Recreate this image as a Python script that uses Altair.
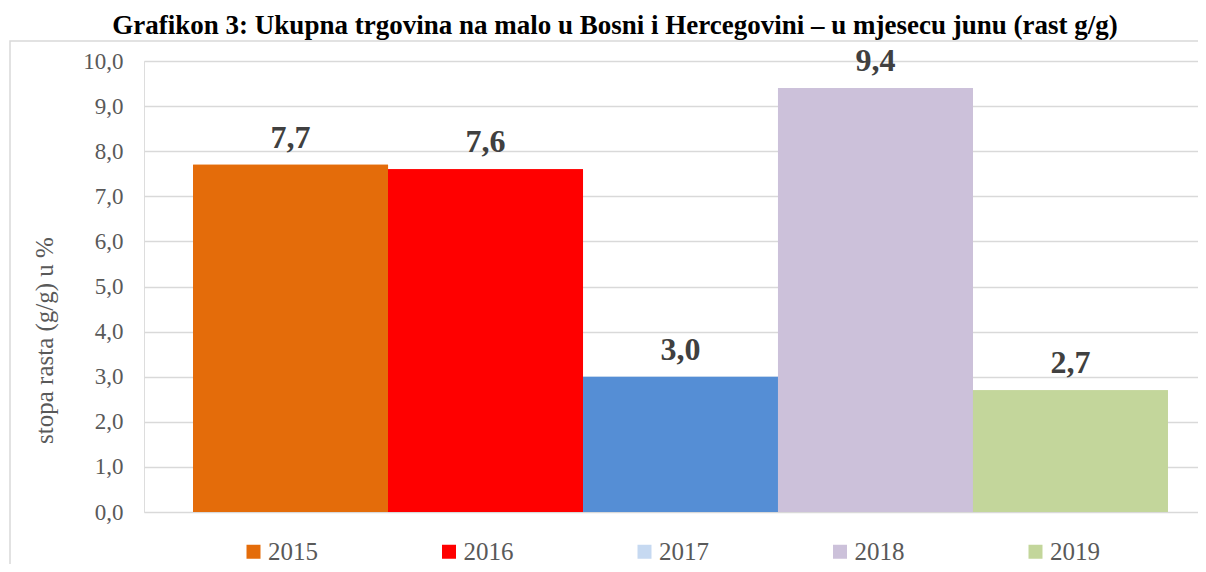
import altair as alt
import pandas as pd

years = ["2015", "2016", "2017", "2018", "2019"]
values = [7.7, 7.6, 3.0, 9.4, 2.7]
bar_colors = ["#E46C0A", "#FF0000", "#558ED5", "#CCC1DA", "#C3D69B"]
legend_colors = ["#E46C0A", "#FF0000", "#C6D9F1", "#CCC1DA", "#C3D69B"]

df = pd.DataFrame({"year": years, "value": values, "bar_color": bar_colors})

W, H = 1054, 451
FONT = "Liberation Serif"

xscale = alt.Scale(paddingInner=0, paddingOuter=0.203, align=0.62)
x = alt.X("year:N", sort=years, axis=None, scale=xscale)
y = alt.Y("value:Q", scale=alt.Scale(domain=[0, 10], nice=False),
          axis=alt.Axis(values=list(range(0, 11)),
                        labelExpr="replace(format(datum.value, '.1f'), '.', ',')",
                        title="stopa rasta (g/g) u %",
                        titleFont=FONT, titleFontSize=25, titleFontWeight="normal",
                        titleColor="#595959", titleX=-100, titleY=279,
                        titleAlign="center", titleBaseline="middle", titleAngle=270,
                        labelFont=FONT, labelFontSize=23, labelColor="#595959",
                        labelPadding=21, ticks=False, domain=False,
                        grid=True, gridColor="#D9D9D9", gridWidth=1.5))

base = alt.Chart(df)

bars = base.mark_bar().encode(
    x=x, y=y,
    color=alt.Color("year:N", sort=years,
                    scale=alt.Scale(domain=years, range=legend_colors),
                    legend=alt.Legend(title=None, orient="none", direction="horizontal",
                                      legendX=97, legendY=478,
                                      symbolType="square", symbolSize=196,
                                      symbolStrokeWidth=0,
                                      labelFont=FONT, labelFontSize=25,
                                      labelColor="#595959", labelOffset=2,
                                      columnPadding=118.5)),
)

bar_overlay = base.mark_bar().encode(
    x=x, y=y,
    color=alt.Color("bar_color:N", scale=None, legend=None),
)

labels = base.transform_calculate(
    lab="replace(format(datum.value, '.1f'), '.', ',')"
).mark_text(font=FONT, fontSize=32, fontWeight="bold", color="#404040",
            baseline="alphabetic", dy=-17).encode(
    x=alt.X("year:N", sort=years, axis=None, scale=xscale, bandPosition=0.5),
    y=alt.Y("value:Q"),
    text="lab:N",
)

frame = alt.Chart(pd.DataFrame({"a": [0]})).mark_rect(
    fill=None, stroke="#D9D9D9", strokeWidth=1.5
).encode(
    x=alt.value(-134), x2=alt.value(1200), y=alt.value(-20), y2=alt.value(600)
)

chart = alt.layer(frame, bars, bar_overlay, labels).properties(
    width=W, height=H,
    title=alt.TitleParams(
        "Grafikon 3: Ukupna trgovina na malo u Bosni i Hercegovini – u mjesecu junu (rast g/g)",
        font=FONT, fontSize=27, fontWeight="bold", color="#000000",
        anchor="middle", dx=-56, offset=0),
    autosize=alt.AutoSizeParams(type="none"),
    padding={"left": 136, "top": 53, "right": 0, "bottom": 52},
).configure_view(stroke=None).configure(background="white")

chart.save("out.html", embed_options={"renderer": "svg", "actions": False})
